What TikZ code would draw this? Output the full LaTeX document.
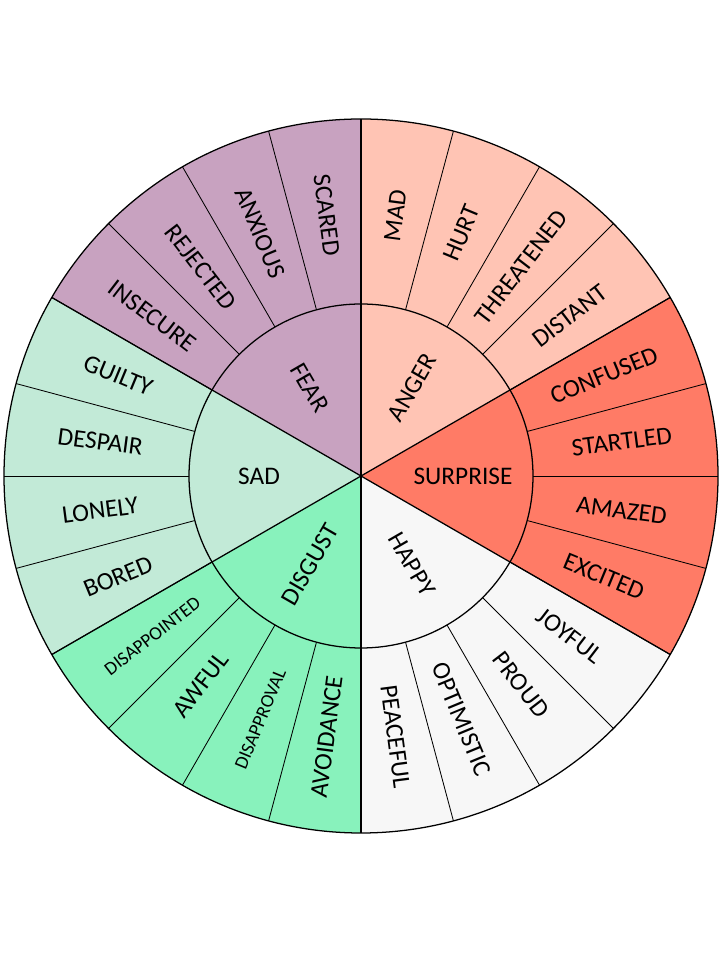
\documentclass[tikz,border=0pt]{standalone}
\usepackage{fontspec}
\setmainfont{Carlito}
\usetikzlibrary{calc}
\definecolor{anger}{HTML}{FFC4B4}
\definecolor{surprise}{HTML}{FF7B66}
\definecolor{happy}{HTML}{F7F7F7}
\definecolor{disgust}{HTML}{88F2BC}
\definecolor{sad}{HTML}{C2EAD7}
\definecolor{fear}{HTML}{C8A2C0}
\tikzset{
  wheeltext/.style={font=\fontsize{18}{21}\selectfont, inner sep=0pt},
  smalltext/.style={font=\fontsize{13.5}{16}\selectfont, inner sep=0pt},
  rim/.style={black, line width=0.9pt}
}
\begin{document}
\begin{tikzpicture}[x=0.025cm,y=0.025cm]
	\useasboundingbox (0,0) rectangle (720,960);
	\coordinate (c) at (361,484);
	% sectors
	\foreach \a/\col in {30/anger,-30/surprise,-90/happy,-150/disgust,150/sad,90/fear}
		\fill [\col] (c) -- ++(\a:357) arc [start angle=\a, end angle=\a+60, radius=357] -- cycle;
	% spokes
	\foreach \a in {0,15,...,345}
		\draw [black, line width=0.6pt] ($(c)+(\a:172)$) -- ($(c)+(\a:357)$);
	\foreach \a in {30,90,...,330}
		\draw [rim] (c) -- ($(c)+(\a:357)$);
	\draw [rim] (c) circle (172);
	\draw [rim] (c) circle (357);
	% inner words
	\foreach \m/\t in {60/ANGER,0/SURPRISE,-60/HAPPY,-120/DISGUST,180/SAD,120/FEAR} {
		\pgfmathsetmacro{\r}{cos(\m)<0 ? \m+180 : \m}
		\node [wheeltext, rotate=\r] (in-\t) at ($(c)+(\m:102)$) {\t};
	}
	% outer words
	\foreach \m/\t/\s in {82.5/MAD/wheeltext,67.5/HURT/wheeltext,52.5/THREATENED/wheeltext,37.5/DISTANT/wheeltext,
		22.5/CONFUSED/wheeltext,7.5/STARTLED/wheeltext,-7.5/AMAZED/wheeltext,-22.5/EXCITED/wheeltext,
		-37.5/JOYFUL/wheeltext,-52.5/PROUD/wheeltext,-67.5/OPTIMISTIC/wheeltext,-82.5/PEACEFUL/wheeltext,
		-97.5/AVOIDANCE/wheeltext,-112.5/DISAPPROVAL/smalltext,-127.5/AWFUL/wheeltext,-142.5/DISAPPOINTED/smalltext,
		-157.5/BORED/wheeltext,-172.5/LONELY/wheeltext,172.5/DESPAIR/wheeltext,157.5/GUILTY/wheeltext,
		142.5/INSECURE/wheeltext,127.5/REJECTED/wheeltext,112.5/ANXIOUS/wheeltext,97.5/SCARED/wheeltext} {
		\pgfmathsetmacro{\r}{cos(\m)<0 ? \m+180 : \m}
		\node [\s, rotate=\r] (out-\t) at ($(c)+(\m:263)$) {\t};
	}
\end{tikzpicture}
\end{document}
